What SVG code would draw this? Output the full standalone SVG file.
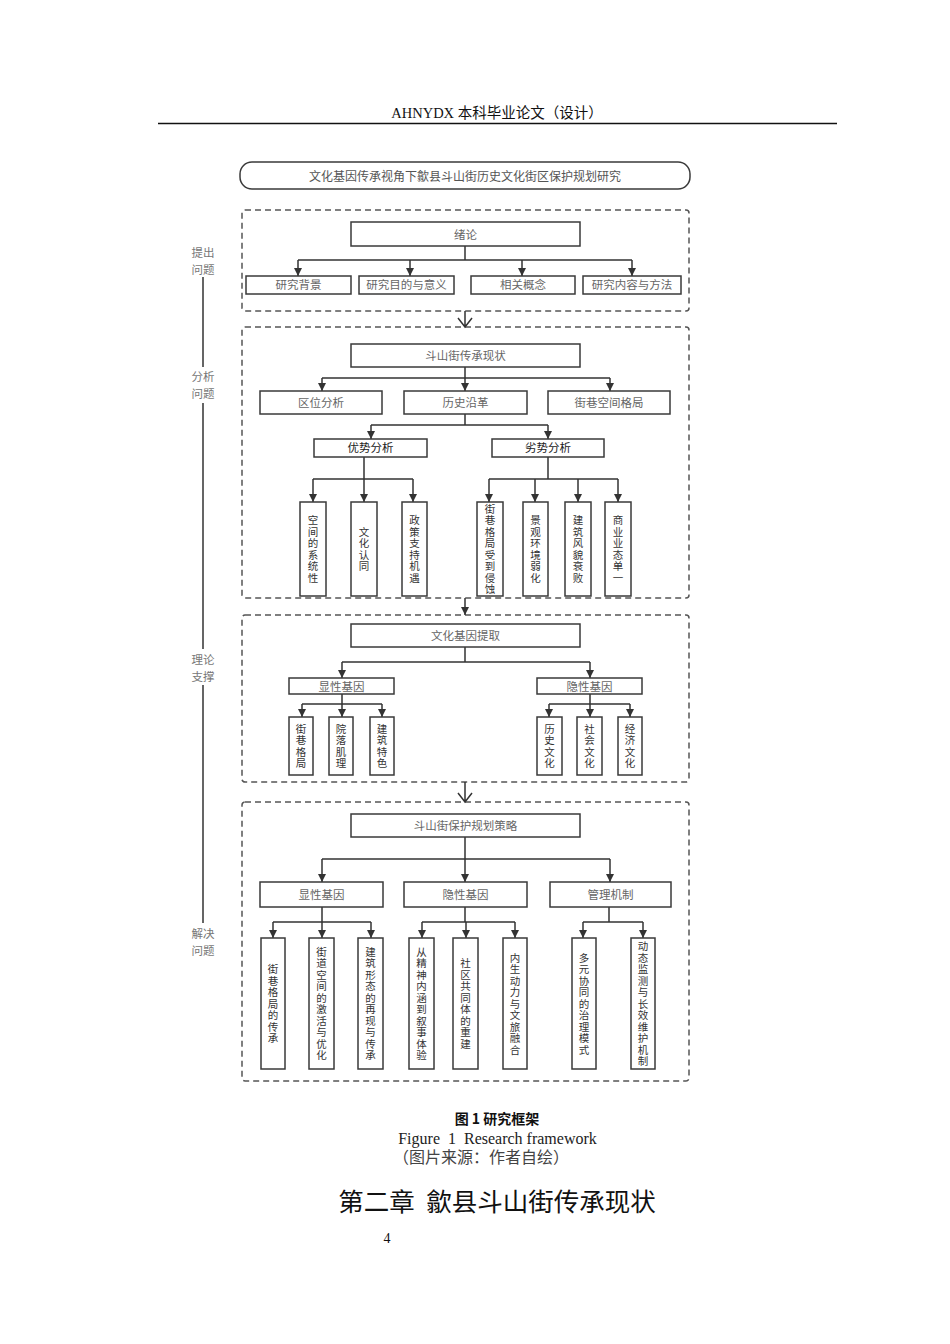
<svg xmlns="http://www.w3.org/2000/svg" width="950" height="1344" viewBox="0 0 950 1344">
<style>
text{font-family:"Noto Sans CJK SC","Noto Sans",sans-serif;}
.serif{font-family:"Liberation Serif","Noto Sans CJK SC",serif;}
.box{fill:#fff;stroke:#3a3a3a;stroke-width:1.5;}
.dash{fill:none;stroke:#555;stroke-width:1.5;stroke-dasharray:6 4;}
.lbl{font-size:11.5px;fill:#666;text-anchor:middle;}
.lbl2{font-size:11.5px;fill:#222;text-anchor:middle;}
.vt{font-size:10.5px;fill:#333;text-anchor:middle;}
.side{font-size:11.5px;fill:#777;text-anchor:middle;}
.con{fill:none;stroke:#333;stroke-width:1.5;}
.arr{fill:none;stroke:#333;stroke-width:1.5;marker-end:url(#ah);}
</style>
<defs>
<marker id="ah" markerUnits="userSpaceOnUse" markerWidth="9" markerHeight="10" refX="8" refY="4" orient="auto" viewBox="0 0 9 8"><path d="M0,0 L8,4 L0,8 z" fill="#333"/></marker>
</defs>
<rect width="950" height="1344" fill="#fff"/>

<g id="header">
<text x="497" y="118" class="serif" font-size="14.5" fill="#111" text-anchor="middle">AHNYDX 本科毕业论文（设计）</text>
<line x1="158" y1="123.5" x2="837" y2="123.5" stroke="#111" stroke-width="1.6"/>
</g>

<g id="title">
<rect x="240" y="162" width="450" height="27" rx="12" class="box"/>
<text x="465" y="180.5" font-size="12" fill="#555" text-anchor="middle">文化基因传承视角下歙县斗山街历史文化街区保护规划研究</text>
</g>

<g id="side-axis">
<text x="203" y="257" class="side">提出</text>
<text x="203" y="274" class="side">问题</text>
<text x="203" y="381" class="side">分析</text>
<text x="203" y="398" class="side">问题</text>
<text x="203" y="664" class="side">理论</text>
<text x="203" y="681" class="side">支撑</text>
<text x="203" y="938" class="side">解决</text>
<text x="203" y="955" class="side">问题</text>
<path d="M203,277 V367 M203,403 V649 M203,685 V923" stroke="#333" stroke-width="1.5" fill="none"/>
</g>

<g id="sections">
<rect x="242" y="210" width="447" height="101" rx="3" class="dash"/>
<rect x="242" y="327" width="447" height="271" rx="3" class="dash"/>
<rect x="242" y="615" width="447" height="167" rx="3" class="dash"/>
<rect x="242" y="802" width="447" height="279" rx="3" class="dash"/>
</g>

<g id="connectors">
<path d="M465,311 V327 M458,318 L465,327 L472,318" class="con"/>
<path d="M465,598 V615" class="arr"/>
<path d="M465,782 V802 M458,793 L465,802 L472,793" class="con"/>
<path d="M465,246 V260 M298,260 H632" class="con"/>
<path d="M298,260 V276" class="arr"/><path d="M410,260 V276" class="arr"/><path d="M522,260 V276" class="arr"/><path d="M632,260 V276" class="arr"/>
<path d="M465,367 V378 M322,378 H610" class="con"/>
<path d="M322,378 V391" class="arr"/><path d="M465,378 V391" class="arr"/><path d="M610,378 V391" class="arr"/>
<path d="M465,414 V425 M371,425 H548" class="con"/>
<path d="M371,425 V439" class="arr"/><path d="M548,425 V439" class="arr"/>
<path d="M364,457 V479 M313,479 H413" class="con"/>
<path d="M313,479 V502" class="arr"/><path d="M364,479 V502" class="arr"/><path d="M413,479 V502" class="arr"/>
<path d="M548,457 V479 M489,479 H618" class="con"/>
<path d="M489,479 V502" class="arr"/><path d="M535,479 V502" class="arr"/><path d="M578,479 V502" class="arr"/><path d="M618,479 V502" class="arr"/>
<path d="M465,647 V662 M342,662 H590" class="con"/>
<path d="M342,662 V678" class="arr"/><path d="M590,662 V678" class="arr"/>
<path d="M342,694 V704 M302,704 H382" class="con"/>
<path d="M302,704 V717" class="arr"/><path d="M342,704 V717" class="arr"/><path d="M382,704 V717" class="arr"/>
<path d="M590,694 V704 M549,704 H630" class="con"/>
<path d="M549,704 V717" class="arr"/><path d="M590,704 V717" class="arr"/><path d="M630,704 V717" class="arr"/>
<path d="M465,837 V859 M322,859 H610" class="con"/>
<path d="M322,859 V882" class="arr"/><path d="M465,859 V882" class="arr"/><path d="M610,859 V882" class="arr"/>
<path d="M322,907 V922 M273,922 H371" class="con"/>
<path d="M273,922 V938" class="arr"/><path d="M322,922 V938" class="arr"/><path d="M371,922 V938" class="arr"/>
<path d="M465,907 V922 M422,922 H515" class="con"/>
<path d="M422,922 V938" class="arr"/><path d="M466,922 V938" class="arr"/><path d="M515,922 V938" class="arr"/>
<path d="M609,907 V922 M583,922 H643" class="con"/>
<path d="M583,922 V938" class="arr"/><path d="M643,922 V938" class="arr"/>
</g>

<g id="n-xulun"><rect x="351" y="222" width="229" height="24" class="box"/><text x="465.5" y="238.5" class="lbl">绪论</text></g>
<g id="n-bg"><rect x="246" y="276" width="105" height="18" class="box"/><text x="298.5" y="289" class="lbl">研究背景</text></g>
<g id="n-purpose"><rect x="359" y="276" width="95" height="18" class="box"/><text x="406.5" y="289" class="lbl">研究目的与意义</text></g>
<g id="n-concept"><rect x="471" y="276" width="104" height="18" class="box"/><text x="523" y="289" class="lbl">相关概念</text></g>
<g id="n-method"><rect x="583" y="276" width="98" height="18" class="box"/><text x="632" y="289" class="lbl">研究内容与方法</text></g>

<g id="n-status"><rect x="351" y="344" width="229" height="23" class="box"/><text x="465.5" y="360" class="lbl">斗山街传承现状</text></g>
<g id="n-location"><rect x="260" y="391" width="122" height="23" class="box"/><text x="321" y="407" class="lbl">区位分析</text></g>
<g id="n-history"><rect x="404" y="391" width="123" height="23" class="box"/><text x="465.5" y="407" class="lbl">历史沿革</text></g>
<g id="n-layout"><rect x="548" y="391" width="122" height="23" class="box"/><text x="609" y="407" class="lbl">街巷空间格局</text></g>
<g id="n-adv"><rect x="314" y="439" width="113" height="18" class="box"/><text x="370.5" y="452" class="lbl2">优势分析</text></g>
<g id="n-dis"><rect x="492" y="439" width="112" height="18" class="box"/><text x="548" y="452" class="lbl2">劣势分析</text></g>

<g id="n-a1"><rect x="300" y="502" width="26" height="94" class="box"/><text class="vt" y="524.25"><tspan x="313">空</tspan><tspan x="313" dy="11.5">间</tspan><tspan x="313" dy="11.5">的</tspan><tspan x="313" dy="11.5">系</tspan><tspan x="313" dy="11.5">统</tspan><tspan x="313" dy="11.5">性</tspan></text></g>
<g id="n-a2"><rect x="351" y="502" width="26" height="94" class="box"/><text class="vt" y="535.75"><tspan x="364">文</tspan><tspan x="364" dy="11.5">化</tspan><tspan x="364" dy="11.5">认</tspan><tspan x="364" dy="11.5">同</tspan></text></g>
<g id="n-a3"><rect x="402" y="502" width="25" height="94" class="box"/><text class="vt" y="524.25"><tspan x="414.5">政</tspan><tspan x="414.5" dy="11.5">策</tspan><tspan x="414.5" dy="11.5">支</tspan><tspan x="414.5" dy="11.5">持</tspan><tspan x="414.5" dy="11.5">机</tspan><tspan x="414.5" dy="11.5">遇</tspan></text></g>
<g id="n-d1"><rect x="477" y="502" width="26" height="94" class="box"/><text class="vt" y="512.75"><tspan x="490">街</tspan><tspan x="490" dy="11.5">巷</tspan><tspan x="490" dy="11.5">格</tspan><tspan x="490" dy="11.5">局</tspan><tspan x="490" dy="11.5">受</tspan><tspan x="490" dy="11.5">到</tspan><tspan x="490" dy="11.5">侵</tspan><tspan x="490" dy="11.5">蚀</tspan></text></g>
<g id="n-d2"><rect x="523" y="502" width="25" height="94" class="box"/><text class="vt" y="524.25"><tspan x="535.5">景</tspan><tspan x="535.5" dy="11.5">观</tspan><tspan x="535.5" dy="11.5">环</tspan><tspan x="535.5" dy="11.5">境</tspan><tspan x="535.5" dy="11.5">弱</tspan><tspan x="535.5" dy="11.5">化</tspan></text></g>
<g id="n-d3"><rect x="565" y="502" width="26" height="94" class="box"/><text class="vt" y="524.25"><tspan x="578">建</tspan><tspan x="578" dy="11.5">筑</tspan><tspan x="578" dy="11.5">风</tspan><tspan x="578" dy="11.5">貌</tspan><tspan x="578" dy="11.5">衰</tspan><tspan x="578" dy="11.5">败</tspan></text></g>
<g id="n-d4"><rect x="605" y="502" width="26" height="94" class="box"/><text class="vt" y="524.25"><tspan x="618">商</tspan><tspan x="618" dy="11.5">业</tspan><tspan x="618" dy="11.5">业</tspan><tspan x="618" dy="11.5">态</tspan><tspan x="618" dy="11.5">单</tspan><tspan x="618" dy="11.5">一</tspan></text></g>

<g id="n-extract"><rect x="351" y="624" width="229" height="23" class="box"/><text x="465.5" y="640" class="lbl">文化基因提取</text></g>
<g id="n-explicit"><rect x="289" y="678" width="105" height="16" class="box"/><text x="341.5" y="690.5" class="lbl">显性基因</text></g>
<g id="n-implicit"><rect x="537" y="678" width="105" height="16" class="box"/><text x="589.5" y="690.5" class="lbl">隐性基因</text></g>
<g id="n-e1"><rect x="289" y="717" width="24" height="58" class="box"/><text class="vt" y="732.75"><tspan x="301">街</tspan><tspan x="301" dy="11.5">巷</tspan><tspan x="301" dy="11.5">格</tspan><tspan x="301" dy="11.5">局</tspan></text></g>
<g id="n-e2"><rect x="329" y="717" width="24" height="58" class="box"/><text class="vt" y="732.75"><tspan x="341">院</tspan><tspan x="341" dy="11.5">落</tspan><tspan x="341" dy="11.5">肌</tspan><tspan x="341" dy="11.5">理</tspan></text></g>
<g id="n-e3"><rect x="370" y="717" width="24" height="58" class="box"/><text class="vt" y="732.75"><tspan x="382">建</tspan><tspan x="382" dy="11.5">筑</tspan><tspan x="382" dy="11.5">特</tspan><tspan x="382" dy="11.5">色</tspan></text></g>
<g id="n-i1"><rect x="537" y="717" width="25" height="58" class="box"/><text class="vt" y="732.75"><tspan x="549.5">历</tspan><tspan x="549.5" dy="11.5">史</tspan><tspan x="549.5" dy="11.5">文</tspan><tspan x="549.5" dy="11.5">化</tspan></text></g>
<g id="n-i2"><rect x="577" y="717" width="25" height="58" class="box"/><text class="vt" y="732.75"><tspan x="589.5">社</tspan><tspan x="589.5" dy="11.5">会</tspan><tspan x="589.5" dy="11.5">文</tspan><tspan x="589.5" dy="11.5">化</tspan></text></g>
<g id="n-i3"><rect x="618" y="717" width="24" height="58" class="box"/><text class="vt" y="732.75"><tspan x="630">经</tspan><tspan x="630" dy="11.5">济</tspan><tspan x="630" dy="11.5">文</tspan><tspan x="630" dy="11.5">化</tspan></text></g>

<g id="n-strategy"><rect x="351" y="814" width="229" height="23" class="box"/><text x="465.5" y="830" class="lbl">斗山街保护规划策略</text></g>
<g id="n-s-explicit"><rect x="260" y="882" width="123" height="25" class="box"/><text x="321.5" y="899" class="lbl">显性基因</text></g>
<g id="n-s-implicit"><rect x="404" y="882" width="123" height="25" class="box"/><text x="465.5" y="899" class="lbl">隐性基因</text></g>
<g id="n-s-manage"><rect x="550" y="882" width="121" height="25" class="box"/><text x="610.5" y="899" class="lbl">管理机制</text></g>

<g id="n-s1"><rect x="261" y="938" width="24" height="131" class="box"/><text class="vt" y="973"><tspan x="273">街</tspan><tspan x="273" dy="11.5">巷</tspan><tspan x="273" dy="11.5">格</tspan><tspan x="273" dy="11.5">局</tspan><tspan x="273" dy="11.5">的</tspan><tspan x="273" dy="11.5">传</tspan><tspan x="273" dy="11.5">承</tspan></text></g>
<g id="n-s2"><rect x="309" y="938" width="25" height="131" class="box"/><text class="vt" y="955.75"><tspan x="321.5">街</tspan><tspan x="321.5" dy="11.5">道</tspan><tspan x="321.5" dy="11.5">空</tspan><tspan x="321.5" dy="11.5">间</tspan><tspan x="321.5" dy="11.5">的</tspan><tspan x="321.5" dy="11.5">激</tspan><tspan x="321.5" dy="11.5">活</tspan><tspan x="321.5" dy="11.5">与</tspan><tspan x="321.5" dy="11.5">优</tspan><tspan x="321.5" dy="11.5">化</tspan></text></g>
<g id="n-s3"><rect x="358" y="938" width="25" height="131" class="box"/><text class="vt" y="955.75"><tspan x="370.5">建</tspan><tspan x="370.5" dy="11.5">筑</tspan><tspan x="370.5" dy="11.5">形</tspan><tspan x="370.5" dy="11.5">态</tspan><tspan x="370.5" dy="11.5">的</tspan><tspan x="370.5" dy="11.5">再</tspan><tspan x="370.5" dy="11.5">现</tspan><tspan x="370.5" dy="11.5">与</tspan><tspan x="370.5" dy="11.5">传</tspan><tspan x="370.5" dy="11.5">承</tspan></text></g>
<g id="n-s4"><rect x="409" y="938" width="25" height="131" class="box"/><text class="vt" y="955.75"><tspan x="421.5">从</tspan><tspan x="421.5" dy="11.5">精</tspan><tspan x="421.5" dy="11.5">神</tspan><tspan x="421.5" dy="11.5">内</tspan><tspan x="421.5" dy="11.5">涵</tspan><tspan x="421.5" dy="11.5">到</tspan><tspan x="421.5" dy="11.5">叙</tspan><tspan x="421.5" dy="11.5">事</tspan><tspan x="421.5" dy="11.5">体</tspan><tspan x="421.5" dy="11.5">验</tspan></text></g>
<g id="n-s5"><rect x="453" y="938" width="25" height="131" class="box"/><text class="vt" y="967.25"><tspan x="465.5">社</tspan><tspan x="465.5" dy="11.5">区</tspan><tspan x="465.5" dy="11.5">共</tspan><tspan x="465.5" dy="11.5">同</tspan><tspan x="465.5" dy="11.5">体</tspan><tspan x="465.5" dy="11.5">的</tspan><tspan x="465.5" dy="11.5">重</tspan><tspan x="465.5" dy="11.5">建</tspan></text></g>
<g id="n-s6"><rect x="503" y="938" width="24" height="131" class="box"/><text class="vt" y="961.5"><tspan x="515">内</tspan><tspan x="515" dy="11.5">生</tspan><tspan x="515" dy="11.5">动</tspan><tspan x="515" dy="11.5">力</tspan><tspan x="515" dy="11.5">与</tspan><tspan x="515" dy="11.5">文</tspan><tspan x="515" dy="11.5">旅</tspan><tspan x="515" dy="11.5">融</tspan><tspan x="515" dy="11.5">合</tspan></text></g>
<g id="n-s7"><rect x="572" y="938" width="24" height="131" class="box"/><text class="vt" y="961.5"><tspan x="584">多</tspan><tspan x="584" dy="11.5">元</tspan><tspan x="584" dy="11.5">协</tspan><tspan x="584" dy="11.5">同</tspan><tspan x="584" dy="11.5">的</tspan><tspan x="584" dy="11.5">治</tspan><tspan x="584" dy="11.5">理</tspan><tspan x="584" dy="11.5">模</tspan><tspan x="584" dy="11.5">式</tspan></text></g>
<g id="n-s8"><rect x="631" y="938" width="24" height="131" class="box"/><text class="vt" y="950"><tspan x="643">动</tspan><tspan x="643" dy="11.5">态</tspan><tspan x="643" dy="11.5">监</tspan><tspan x="643" dy="11.5">测</tspan><tspan x="643" dy="11.5">与</tspan><tspan x="643" dy="11.5">长</tspan><tspan x="643" dy="11.5">效</tspan><tspan x="643" dy="11.5">维</tspan><tspan x="643" dy="11.5">护</tspan><tspan x="643" dy="11.5">机</tspan><tspan x="643" dy="11.5">制</tspan></text></g>

<g id="caption">
<text x="497" y="1124" font-size="14" fill="#111" text-anchor="middle" font-weight="bold">图 1 研究框架</text>
<text x="497.5" y="1144" class="serif" font-size="16" fill="#222" text-anchor="middle" xml:space="preserve">Figure  1  Research framework</text>
<text x="481" y="1163" class="serif" font-size="16" fill="#444" text-anchor="middle">（图片来源：作者自绘）</text>
<text x="497" y="1211" font-size="25.5" fill="#111" text-anchor="middle" xml:space="preserve">第二章  歙县斗山街传承现状</text>
<text x="387" y="1243" class="serif" font-size="14" fill="#111" text-anchor="middle">4</text>
</g>
</svg>
